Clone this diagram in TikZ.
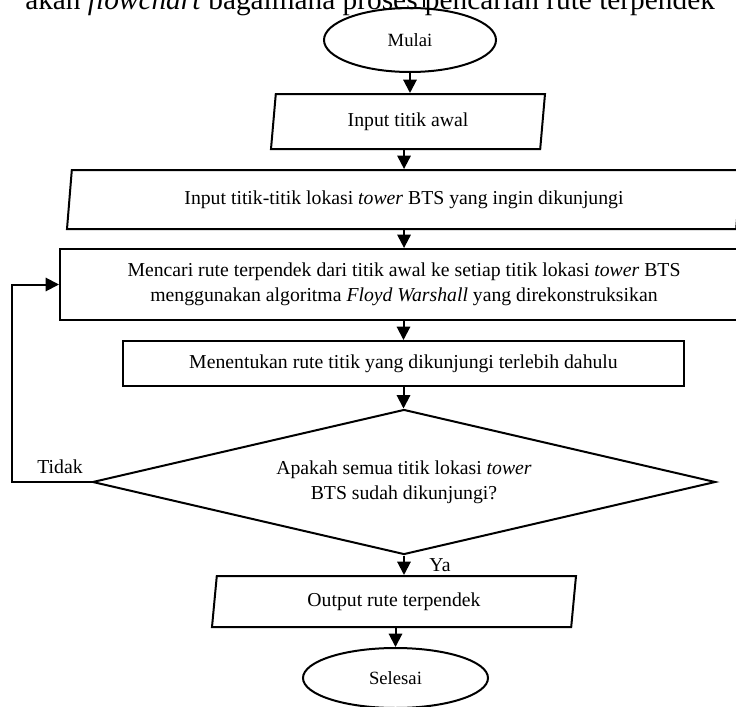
\documentclass[tikz,border=0pt]{standalone}
\usepackage{fontspec}
\setmainfont{Liberation Serif}
\usepackage{tikz}
\usetikzlibrary{positioning, arrows.meta, shapes.geometric, calc}

\begin{document}
\begin{tikzpicture}
[x=0.75pt, y=-0.75pt,
 line/.style={line width=1.5pt},
 arr/.style={line width=1.5pt, arrows={-{Triangle[length=10pt,width=10pt]}}},
 term/.style={ellipse, draw, line width=1.5pt, inner sep=0pt,
   font=\fontsize{14}{17}\selectfont},
 io/.style={trapezium, draw, line width=1.5pt, trapezium left angle=75,
   trapezium right angle=105, trapezium stretches body, inner sep=0pt},
 proc/.style={rectangle, draw, line width=1.5pt, inner sep=0pt},
 dec/.style={diamond, draw, line width=1.5pt, inner sep=0pt, aspect=4.3},
 lbl/.style={font=\fontsize{14.8}{19}\selectfont},
 every text node part/.style={align=center}]

\useasboundingbox (0,0) rectangle (736,707);

% cut-off line of the page text above
\node[anchor=base west, inner sep=0pt, font=\fontsize{22}{26}\selectfont]
  (caption) at (25,9) {akan \emph{flowchart} bagaimana proses pencarian rute terpendek};

% the flowchart
\node[term, minimum width=129pt, minimum height=48pt] (mulai) at (410,40) {Mulai};
\node[io, lbl, minimum width=205.5pt, minimum height=41.25pt] (awal) at (408,121.5)
  {Input titik awal};
\node[io, lbl, minimum width=505.5pt, minimum height=44.25pt] (lokasi) at (404,199.5)
  {Input titik-titik lokasi \emph{tower} BTS yang ingin dikunjungi};
\node[proc, lbl, minimum width=516pt, minimum height=53.25pt] (floyd) at (404,284.5)
  {Mencari rute terpendek dari titik awal ke setiap titik lokasi \emph{tower} BTS\\
   menggunakan algoritma \emph{Floyd Warshall} yang direkonstruksikan};
\node[proc, lbl, minimum width=420.75pt, minimum height=33.75pt] (urutan) at (403.5,363.5)
  {Menentukan rute titik yang dikunjungi terlebih dahulu};
\node[dec, lbl, minimum width=467.25pt, minimum height=108.75pt] (cek) at (404,482)
  {Apakah semua titik lokasi \emph{tower}\\BTS sudah dikunjungi?};
\node[io, lbl, minimum width=273pt, minimum height=38.25pt] (output) at (394,601.5)
  {Output rute terpendek};
\node[term, minimum width=138.75pt, minimum height=45pt] (selesai) at (395.5,678) {Selesai};

\node[lbl] (tidak) at (60,467) {Tidak};
\node[lbl] (ya) at (440,565) {Ya};

\coordinate (atas) at (424,0);
\coordinate (balik) at (12,482);

\draw[line] (atas) -- (atas |- mulai.north);
\draw[arr] (mulai.south) -- (mulai.south |- awal.north);
\draw[arr] (awal.south -| lokasi.north) -- (lokasi.north);
\draw[arr] (lokasi.south) -- (lokasi.south |- floyd.north);
\draw[arr] (floyd.south -| urutan.north) -- (urutan.north);
\draw[arr] (urutan.south) -- (urutan.south |- cek.north);
\draw[arr] (cek.south) -- (cek.south |- output.north);
\draw[arr] (output.south -| selesai.north) -- (selesai.north);
\draw[arr] (cek.west) -- (balik) |- (floyd.west);

\end{tikzpicture}
\end{document}
